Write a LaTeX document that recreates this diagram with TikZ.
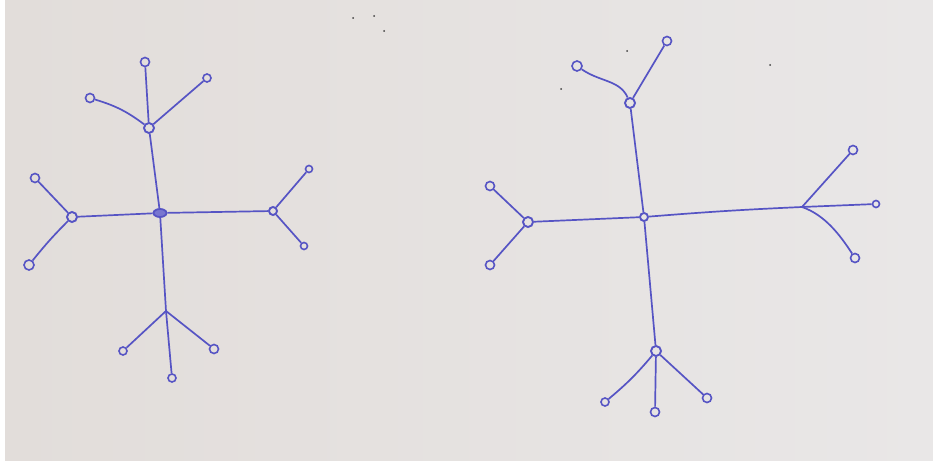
\documentclass[tikz,border=0pt]{standalone}
\usetikzlibrary{shapes.geometric}
\begin{document}
\begin{tikzpicture}[x=1pt,y=-1pt,
  ink/.style={draw=inkc, line width=1.7pt},
  leaf/.style={circle, draw=inkc, line width=1.6pt, inner sep=0pt, minimum size=9pt},
  hub/.style={circle, draw=inkc, line width=1.9pt, inner sep=0pt, minimum size=10pt},
  blob/.style={ellipse, draw=inkc, fill=inkc!80, line width=1.8pt, inner sep=0pt, minimum width=13pt, minimum height=8pt},
  speck/.style={circle, fill=black!75, inner sep=0pt, minimum size=2pt}]
\definecolor{inkc}{RGB}{86,84,196}
\definecolor{paperA}{RGB}{226,221,218}
\definecolor{paperB}{RGB}{233,231,231}
\useasboundingbox (0,0) rectangle (933,462);
\fill[white] (0,0) rectangle (933,462);
\shade[left color=paperA, right color=paperB] (5,0) rectangle (933,460);
% specks
\node[speck] (s1) at (353,18) {};
\node[speck] (s2) at (374,16) {};
\node[speck] (s3) at (384,31) {};
\node[speck] (s4) at (627,51) {};
\node[speck] (s5) at (770,65) {};
\node[speck] (s6) at (561,89) {};
% ---- left tree ----
\node[blob] (c1) at (160,213) {};
\node[hub] (t1) at (149,128) {};
\node[hub] (l1) at (72,217) {};
\node[hub, minimum size=8pt] (r1) at (273,211) {};
\coordinate (b1) at (166,311);
\node[leaf] (t1a) at (145,62) {};
\node[leaf] (t1b) at (90,98) {};
\node[leaf, minimum size=8pt] (t1c) at (207,78) {};
\node[leaf] (l1a) at (35,178) {};
\node[leaf, minimum size=10pt] (l1b) at (29,265) {};
\node[leaf, minimum size=7pt] (r1a) at (309,169) {};
\node[leaf, minimum size=7pt] (r1b) at (304,246) {};
\node[leaf, minimum size=8pt] (b1a) at (123,351) {};
\node[leaf] (b1b) at (214,349) {};
\node[leaf, minimum size=8pt] (b1c) at (172,378) {};
\draw[ink] (c1) -- (t1);
\draw[ink] (c1) -- (l1);
\draw[ink] (c1) -- (r1);
\draw[ink] (c1) -- (b1);
\draw[ink] (t1) -- (t1a);
\draw[ink] (t1) to[bend right=10] (t1b);
\draw[ink] (t1) -- (t1c);
\draw[ink] (l1) -- (l1a);
\draw[ink] (l1) to[bend right=3] (l1b);
\draw[ink] (r1) -- (r1a);
\draw[ink] (r1) -- (r1b);
\draw[ink] (b1) -- (b1a);
\draw[ink] (b1) -- (b1b);
\draw[ink] (b1) -- (b1c);
% ---- right tree ----
\node[hub, minimum size=8pt] (c2) at (644,217) {};
\node[hub] (t2) at (630,103) {};
\node[hub] (l2) at (528,222) {};
\coordinate (r2) at (802,207);
\node[hub] (b2) at (656,351) {};
\node[leaf] (t2a) at (667,41) {};
\node[leaf, minimum size=10pt] (t2b) at (577,66) {};
\node[leaf] (l2a) at (490,186) {};
\node[leaf] (l2b) at (490,265) {};
\node[leaf] (r2a) at (853,150) {};
\node[leaf, minimum size=7pt] (r2b) at (876,204) {};
\node[leaf] (r2c) at (855,258) {};
\node[leaf, minimum size=8pt] (b2a) at (605,402) {};
\node[leaf] (b2b) at (655,412) {};
\node[leaf] (b2c) at (707,398) {};
\draw[ink] (c2) -- (t2);
\draw[ink] (c2) -- (l2);
\draw[ink] (c2) to[bend left=1] (r2);
\draw[ink] (c2) -- (b2);
\draw[ink] (t2) -- (t2a);
\draw[ink] (t2) .. controls (620,80) and (600,82) .. (t2b);
\draw[ink] (l2) -- (l2a);
\draw[ink] (l2) -- (l2b);
\draw[ink] (r2) -- (r2a);
\draw[ink] (r2) -- (r2b);
\draw[ink] (r2) .. controls (825,215) and (840,235) .. (r2c);
\draw[ink] (b2) to[bend left=5] (b2a);
\draw[ink] (b2) -- (b2b);
\draw[ink] (b2) -- (b2c);
\end{tikzpicture}
\end{document}
